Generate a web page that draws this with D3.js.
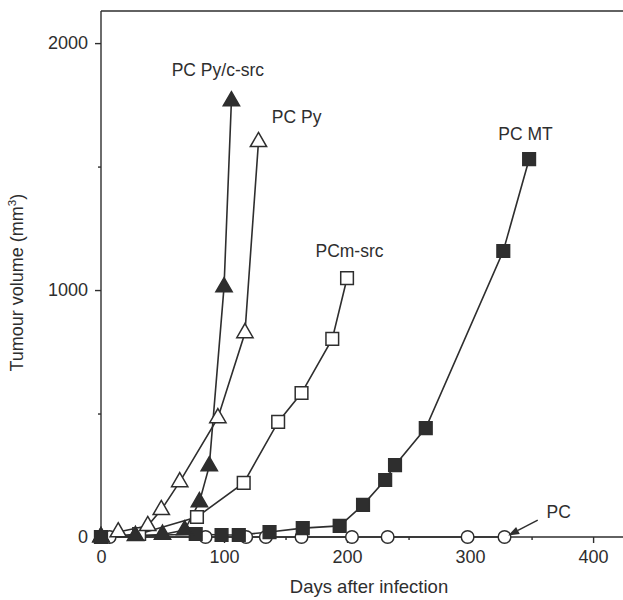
<!DOCTYPE html>
<html><head><meta charset="utf-8">
<script src="https://cdn.jsdelivr.net/npm/d3@7"></script>
<style>
html,body{margin:0;padding:0;background:#fff;}
svg{display:block;font-family:"Liberation Sans",Arial,Helvetica,sans-serif;}
</style></head>
<body>
<svg id="chart" width="623" height="600"></svg>
<script>
// ---- data ----
const pcDays   = [0, 7, 85, 118, 134, 163, 204, 233, 298, 328];
const pcVals   = [0, 0, 0, 0, 0, 0, 0, 0, 0, 0];

const pcMtDays = [0, 77, 98, 112, 137, 164, 194, 213, 231, 239, 264, 327, 348];
const pcMtVals = [0, 12, 8, 8, 20, 36, 45, 130, 231, 291, 441, 1158, 1530];

const pcmSrcDays = [0, 31, 78, 116, 144, 163, 188, 200];
const pcmSrcVals = [0, 12, 81, 219, 466, 583, 802, 1048];

const pcPyDays = [0, 14, 38, 49, 64, 95, 117, 128];
const pcPyVals = [0, 20, 45, 110, 223, 482, 826, 1600];

const pcPyCsrcDays = [0, 28, 50, 68, 80, 88, 100, 106];
const pcPyCsrcVals = [0, 5, 10, 28, 142, 287, 1012, 1765];

const xTickVals = [0, 100, 200, 300, 400];
const xMinorVals = [50, 150, 250, 350];
const yTickVals = [0, 1000, 2000];
const yMinorVals = [500, 1500];

const labels = [
  {text: "PC Py/c-src", day: 95,  val: 1866},
  {text: "PC Py",       day: 159, val: 1676},
  {text: "PCm-src",     day: 202, val: 1134},
  {text: "PC MT",       day: 345, val: 1607},
  {text: "PC",          day: 372, val: 77}
];
const arrowFrom = {day: 355, val: 68};
const arrowTo   = {day: 331, val: 6};

// ---- layout ----
const svg = d3.select("#chart");
const ink = "#2e2e2e";
const x = d3.scaleLinear().domain([0, 430]).range([101, 630]);
const y = d3.scaleLinear().domain([0, 2130]).range([537, 11]);

// frame top line and axes
svg.append("line").attr("x1", x(0)).attr("x2", 623).attr("y1", y(2130)).attr("y2", y(2130))
  .attr("stroke", ink).attr("stroke-width", 1.4);

const gx = svg.append("g").attr("transform", `translate(0,${y(0)})`)
  .call(d3.axisBottom(x).tickValues(xTickVals).tickSize(6).tickPadding(6).tickFormat(d3.format("d")));
const gxm = svg.append("g").attr("transform", `translate(0,${y(0)})`)
  .call(d3.axisBottom(x).tickValues(xMinorVals).tickSize(3).tickFormat(""));
const gy = svg.append("g").attr("transform", `translate(${x(0)},0)`)
  .call(d3.axisLeft(y).tickValues(yTickVals).tickSize(6).tickPadding(7).tickFormat(d3.format("d")));
const gym = svg.append("g").attr("transform", `translate(${x(0)},0)`)
  .call(d3.axisLeft(y).tickValues(yMinorVals).tickSize(3).tickFormat(""));

[gx, gxm, gy, gym].forEach(g => {
  g.select(".domain").remove();
  g.selectAll("line").attr("stroke", ink).attr("stroke-width", 1.4);
  g.selectAll("text").attr("fill", ink).style("font-size", "18px")
   .style("font-family", '"Liberation Sans",Arial,sans-serif');
});
gx.selectAll("text").attr("dy", "0.78em");
// axis lines extended to the edge of the window
svg.append("line").attr("x1", x(0)).attr("x2", 623).attr("y1", y(0)).attr("y2", y(0))
  .attr("stroke", ink).attr("stroke-width", 1.4);
svg.append("line").attr("x1", x(0)).attr("x2", x(0)).attr("y1", y(0)).attr("y2", y(2130))
  .attr("stroke", ink).attr("stroke-width", 1.4);

// axis titles
svg.append("text").attr("x", 369).attr("y", 593)
  .attr("text-anchor", "middle").attr("fill", ink).style("font-size", "18.5px")
  .text("Days after infection");
const yt = svg.append("text").attr("transform", `translate(23,${y(1030)}) rotate(-90)`)
  .attr("text-anchor", "middle").attr("fill", ink).style("font-size", "18px");
yt.append("tspan").text("Tumour volume (mm");
yt.append("tspan").attr("dy", -7).style("font-size", "11.5px").text("3");
yt.append("tspan").attr("dy", 7).text(")");

// ---- series ----
const zipS = (ds, vs) => ds.map((d, i) => ({d, v: vs[i]}));
const series = [
  {pts: zipS(pcDays, pcVals), shape: d3.symbolCircle, size: 125, fill: "#fff"},
  {pts: zipS(pcmSrcDays, pcmSrcVals), shape: d3.symbolSquare, size: 160, fill: "#fff"},
  {pts: zipS(pcPyDays, pcPyVals), shape: d3.symbolTriangle, size: 115, fill: "#fff"},
  {pts: zipS(pcMtDays, pcMtVals), shape: d3.symbolSquare, size: 160, fill: ink},
  {pts: zipS(pcPyCsrcDays, pcPyCsrcVals), shape: d3.symbolTriangle, size: 115, fill: ink}
];
const line = d3.line().x(p => x(p.d)).y(p => y(p.v));
series.forEach(s => {
  svg.append("path").datum(s.pts).attr("d", line)
    .attr("fill", "none").attr("stroke", ink).attr("stroke-width", 1.6);
});
series.forEach(s => {
  svg.append("g").selectAll("path").data(s.pts).join("path")
    .attr("transform", p => `translate(${x(p.d)},${y(p.v)})`)
    .attr("d", d3.symbol().type(s.shape).size(s.size))
    .attr("fill", s.fill).attr("stroke", ink).attr("stroke-width", 1.5);
});

// ---- labels ----
svg.append("g").selectAll("text").data(labels).join("text")
  .attr("x", l => x(l.day)).attr("y", l => y(l.val))
  .attr("text-anchor", "middle").attr("fill", ink).style("font-size", "17.5px")
  .text(l => l.text);

// arrow to PC
const ax1 = x(arrowFrom.day), ay1 = y(arrowFrom.val), ax2 = x(arrowTo.day), ay2 = y(arrowTo.val);
const ang = Math.atan2(ay2 - ay1, ax2 - ax1);
const hl = 11, hw = 4;
const bx = ax2 - hl * Math.cos(ang), by = ay2 - hl * Math.sin(ang);
svg.append("line").attr("x1", ax1).attr("y1", ay1).attr("x2", bx).attr("y2", by)
  .attr("stroke", ink).attr("stroke-width", 1.5);
svg.append("path")
  .attr("d", `M${ax2},${ay2}L${bx + hw * Math.sin(ang)},${by - hw * Math.cos(ang)}L${bx - hw * Math.sin(ang)},${by + hw * Math.cos(ang)}Z`)
  .attr("fill", ink);
</script>
</body></html>
